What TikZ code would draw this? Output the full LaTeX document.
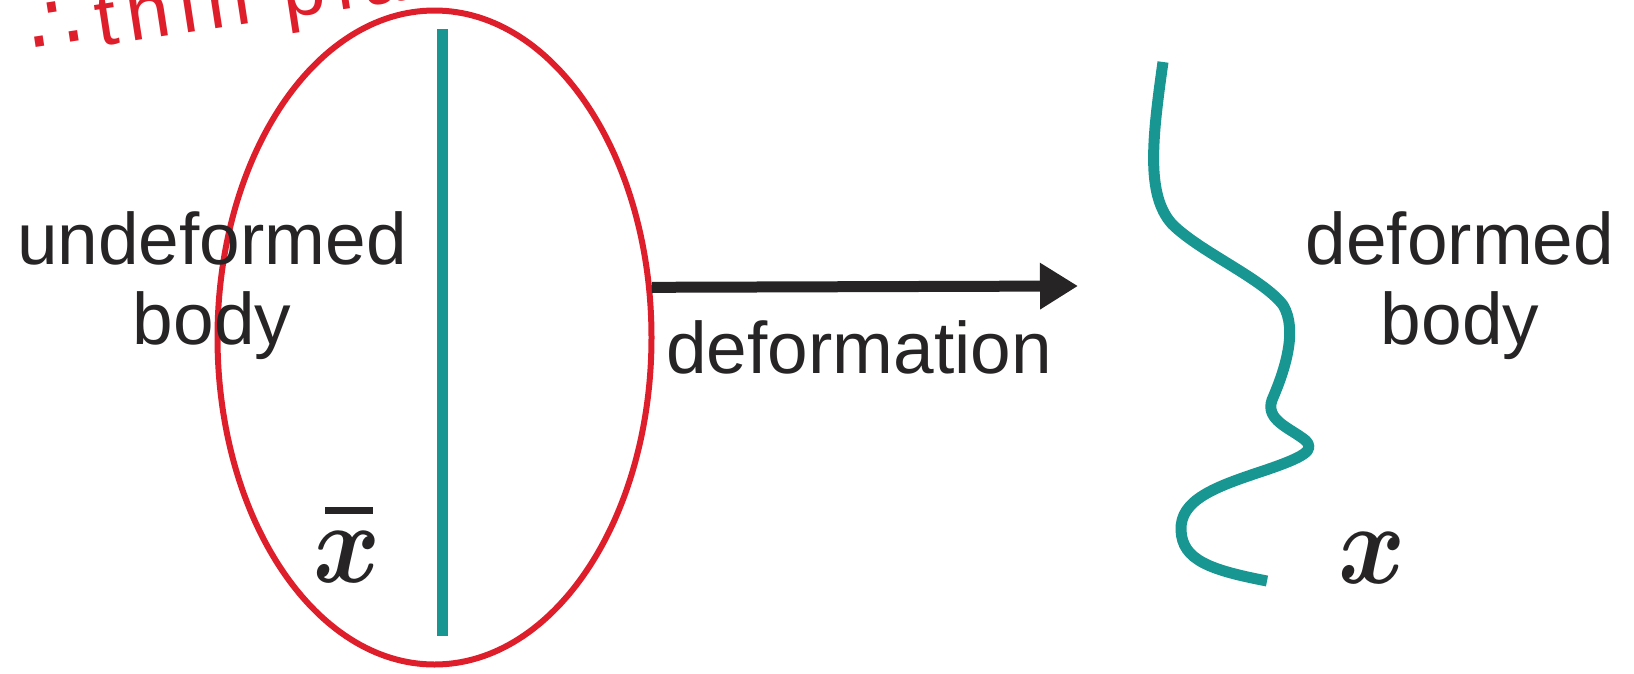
\documentclass[tikz,border=0pt]{standalone}
\usepackage{graphicx}
\usepackage{fontspec}
\setmainfont{Liberation Sans}
\newfontfamily\symfont{DejaVu Sans}
\usetikzlibrary{shapes.geometric,arrows.meta}
\definecolor{bodyred}{RGB}{222,30,42}
\definecolor{bodyteal}{RGB}{24,150,146}
\definecolor{ink}{RGB}{38,36,37}
\newcommand\bigx{\scalebox{4.1}[4.6]{\fontsize{24.88}{30}\selectfont\boldmath$x$}}
\newcommand\xbarglyph{\vbox{\offinterlineskip\hbox{\kern12pt\rule{48pt}{7pt}}\kern17pt\hbox{\bigx}}}
\tikzset{
  lbl/.style={font=\fontsize{73}{80}\selectfont, text=ink, inner sep=0pt, align=center},
  var/.style={text=ink, inner sep=0pt},
  rod/.style={draw=bodyteal, line width=11pt},
  outline/.style={draw=bodyred, line width=6pt, ellipse, inner sep=0pt},
  maparrow/.style={draw=ink, line width=11pt, -{Triangle[length=38pt,width=44pt]}},
  note/.style={font=\fontsize{78}{80}\selectfont\addfontfeature{LetterSpace=13}, text=bodyred, inner sep=0pt}
}
\begin{document}
\begin{tikzpicture}[x=1pt,y=-1pt]
\path[use as bounding box] (0,0) rectangle (1634,673);
\clip (0,0) rectangle (1634,673);
% undeformed body outline
\node[outline, minimum width=434pt, minimum height=654pt] (ell) at (434.5,337.5) {};
% straight rod
\coordinate (rodtop) at (442,29);
\coordinate (rodbot) at (442,636);
\draw[rod] (rodtop) -- (rodbot);
% deformed rod
\coordinate (wtop) at (1163,62);
\coordinate (wend) at (1267,581);
\draw[rod, line join=round] (wtop)
  .. controls (1152,140) and (1146,195) .. (1172,224)
  .. controls (1200,252) and (1262,278) .. (1283,305)
  .. controls (1298,330) and (1285,370) .. (1272,400)
  .. controls (1265,420) and (1290,428) .. (1305,440)
  .. controls (1316,450) and (1305,457) .. (1260,472)
  .. controls (1215,487) and (1180,500) .. (1181,530)
  .. controls (1182,560) and (1210,570) .. (wend);
% arrow
\coordinate (tip) at (1078,286);
\draw[maparrow] (ell.13.4) -- (tip);
% labels
\node[lbl, anchor=base] (undef) at (212,344) {undeformed\\body};
\node[lbl, anchor=base] (def) at (1460,344) {deformed\\body};
\node[lbl, anchor=base] (deflbl) at (859,373) {deformation};
\node[var, anchor=base west] (xbar) at (313,582) {\xbarglyph};
\node[var, anchor=base west] (xdef) at (1338,583) {\bigx};
\node[note, anchor=base west, rotate=8.7] (thin) at (32,57) {{\symfont\fontsize{84}{84}\selectfont\makebox[68pt][l]{∴}}thin plate};
\end{tikzpicture}
\end{document}
